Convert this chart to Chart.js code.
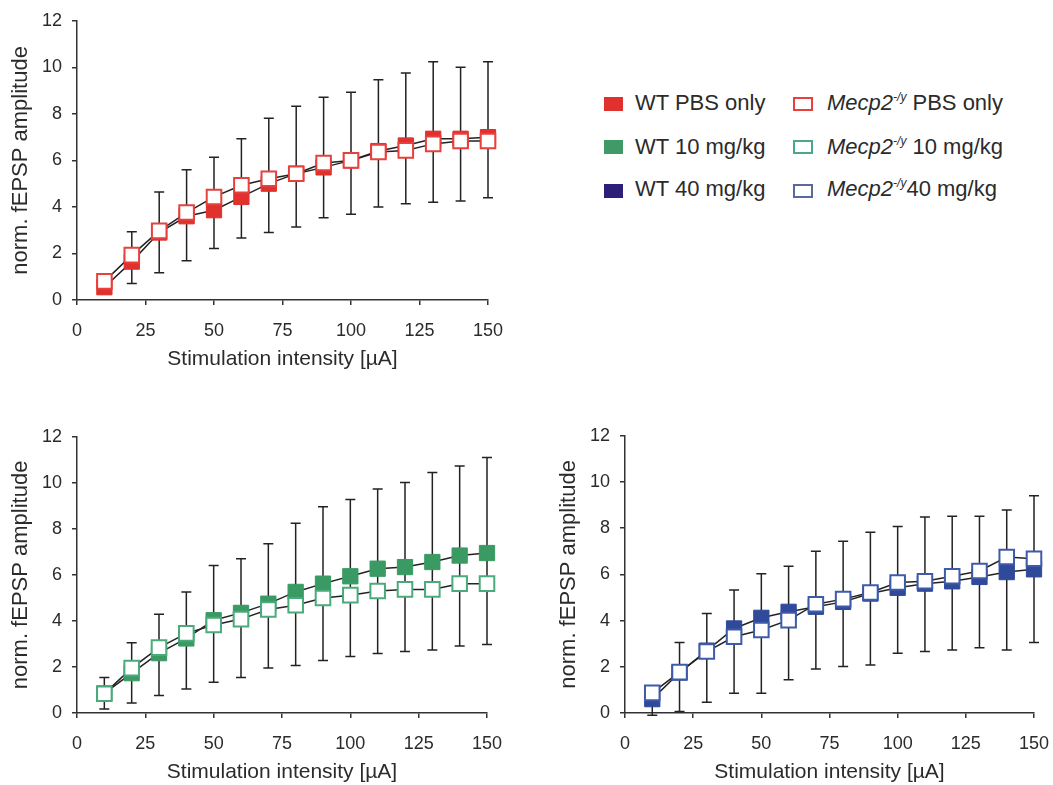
<!DOCTYPE html>
<html>
<head>
<meta charset="utf-8">
<script src="https://cdn.jsdelivr.net/npm/chart.js@4.4.1/dist/chart.umd.min.js"></script>
<style>
  body { margin: 0; width: 1053px; height: 785px; position: relative; overflow: hidden; background: #fff;
         font-family: 'Liberation Sans', Arial, sans-serif; color: #2b2b2b; }
  .panel { position: absolute; }
  .sw { position: absolute; width: 19px; height: 14px; box-sizing: border-box; }
  .open { background: #fff; border: 2px solid; width: 20px; }
  .lbl { position: absolute; font-size: 22px; line-height: 26px; height: 26px; white-space: nowrap; }
  .lbl i sup { font-size: 12px; vertical-align: 9px; line-height: 0; }
</style>
</head>
<body>

<div class="panel" style="left:0;top:0;"><canvas id="pbsChart" width="520" height="380"></canvas></div>
<div class="panel" style="left:0;top:416px;"><canvas id="dose10Chart" width="520" height="377"></canvas></div>
<div class="panel" style="left:548px;top:415px;"><canvas id="dose40Chart" width="520" height="378"></canvas></div>

<!-- легенда -->
<div class="sw" style="left:604px;top:97px;background:#e0312f;"></div>
<div class="lbl" style="left:635px;top:90px;">WT PBS only</div>
<div class="sw" style="left:604px;top:140px;background:#3f9a68;"></div>
<div class="lbl" style="left:635px;top:134px;">WT 10 mg/kg</div>
<div class="sw" style="left:604px;top:184px;background:#2b1f78;"></div>
<div class="lbl" style="left:635px;top:176px;">WT 40 mg/kg</div>

<div class="sw open" style="left:793px;top:97px;border-color:#e8403c;"></div>
<div class="lbl" style="left:827px;top:90px;"><i>Mecp2<sup>-/y</sup></i> PBS only</div>
<div class="sw open" style="left:793px;top:140px;border-color:#4aa88a;"></div>
<div class="lbl" style="left:827px;top:134px;"><i>Mecp2<sup>-/y</sup></i> 10 mg/kg</div>
<div class="sw open" style="left:793px;top:184px;border-color:#5a68a0;"></div>
<div class="lbl" style="left:827px;top:176px;"><i>Mecp2<sup>-/y</sup></i>40 mg/kg</div>

<script>
// Интенсивность стимуляции, мкА
const intensities = [10, 20, 30, 40, 50, 60, 70, 80, 90, 100, 110, 120, 130, 140, 150];

// PBS
const wtPbs   = [0.55, 1.65, 2.9, 3.6, 3.86, 4.43, 5.0, 5.43, 5.7, 6.0, 6.4, 6.64, 6.93, 6.93, 7.0];
const mecpPbs = [0.8, 1.93, 2.97, 3.76, 4.43, 4.93, 5.21, 5.43, 5.89, 6.0, 6.36, 6.43, 6.71, 6.83, 6.83];
const pbsErrHigh = [1.0, 2.93, 4.64, 5.6, 6.14, 6.93, 7.81, 8.33, 8.71, 8.93, 9.47, 9.76, 10.24, 10.0, 10.24];
const pbsErrLow  = [0.3, 0.71, 1.17, 1.69, 2.21, 2.66, 2.9, 3.14, 3.54, 3.69, 4.0, 4.14, 4.2, 4.26, 4.39];

// 10 mg/kg
const wt10   = [0.85, 1.73, 2.6, 3.24, 4.03, 4.35, 4.75, 5.26, 5.62, 5.94, 6.27, 6.34, 6.56, 6.84, 6.95];
const mecp10 = [0.84, 1.95, 2.84, 3.46, 3.82, 4.08, 4.5, 4.68, 5.0, 5.12, 5.3, 5.37, 5.37, 5.62, 5.62];
const err10High = [1.54, 3.05, 4.29, 5.26, 6.41, 6.7, 7.35, 8.24, 8.96, 9.28, 9.73, 10.01, 10.45, 10.73, 11.1];
const err10Low  = [0.17, 0.43, 0.76, 1.04, 1.34, 1.54, 1.95, 2.06, 2.28, 2.45, 2.59, 2.67, 2.74, 2.91, 2.98];

// 40 mg/kg
const wt40   = [0.6, 1.75, 2.7, 3.66, 4.12, 4.38, 4.6, 4.81, 5.17, 5.42, 5.6, 5.7, 5.89, 6.1, 6.22];
const mecp40 = [0.87, 1.77, 2.66, 3.3, 3.59, 4.02, 4.71, 4.93, 5.22, 5.65, 5.7, 5.92, 6.15, 6.75, 6.68];
const err40High = [1.0, 3.05, 4.31, 5.32, 6.03, 6.35, 7.0, 7.44, 7.83, 8.07, 8.48, 8.52, 8.52, 8.79, 9.41];
const err40Low  = [-0.1, 0.07, 0.46, 0.86, 0.86, 1.44, 1.9, 2.01, 2.08, 2.59, 2.66, 2.73, 2.83, 2.73, 3.05];

// Оси
const xMin = 0, xMax = 150, xStep = 25;
const yMin = 0, yMax = 12, yStep = 2;

const ink = '#2b2b2b';
const fontFamily = "'Liberation Sans', Arial, sans-serif";

// Планки погрешностей рисуем под маркерами
const errorBarPlugin = {
    id: 'errorBars',
    beforeDatasetsDraw(chart, args, opts) {
        const { ctx, scales: { x, y } } = chart;
        ctx.save();
        ctx.strokeStyle = '#222';
        ctx.lineWidth = 1.5;
        opts.high.forEach((hi, i) => {
            const px = x.getPixelForValue(intensities[i]);
            const top = y.getPixelForValue(hi);
            const bot = y.getPixelForValue(opts.low[i]);
            ctx.beginPath();
            ctx.moveTo(px, top); ctx.lineTo(px, bot);
            ctx.moveTo(px - 5, top); ctx.lineTo(px + 5, top);
            ctx.moveTo(px - 5, bot); ctx.lineTo(px + 5, bot);
            ctx.stroke();
        });
        ctx.restore();
    }
};

function toPoints(values) {
    return values.map((v, i) => ({ x: intensities[i], y: v }));
}

function makeChart(id, filled, open, fillColor, openColor, errLow, errHigh, padRight) {
    new Chart(document.getElementById(id).getContext('2d'), {
        type: 'line',
        data: {
            datasets: [{
                data: toPoints(open),
                borderColor: '#222',
                borderWidth: 1.5,
                pointStyle: 'rect',
                pointRadius: 10.3,
                pointBorderWidth: 2,
                pointBackgroundColor: '#fff',
                pointBorderColor: openColor,
                clip: false,
                order: 0
            }, {
                data: toPoints(filled),
                borderColor: '#222',
                borderWidth: 1.5,
                pointStyle: 'rect',
                pointRadius: 10.8,
                pointBorderWidth: 1,
                pointBackgroundColor: fillColor,
                pointBorderColor: fillColor,
                clip: false,
                order: 1
            }]
        },
        options: {
            responsive: false,
            animation: false,
            events: [],
            layout: { padding: { top: 20, right: padRight, left: 0, bottom: 0 } },
            plugins: {
                legend: { display: false },
                tooltip: { enabled: false },
                errorBars: { low: errLow, high: errHigh }
            },
            scales: {
                x: {
                    type: 'linear',
                    min: xMin, max: xMax,
                    ticks: { stepSize: xStep, color: ink, padding: 15, font: { family: fontFamily, size: 18 } },
                    grid: { drawOnChartArea: false, drawTicks: true, tickLength: 5, color: '#333', lineWidth: 1.5 },
                    border: { color: '#333', width: 1.5 },
                    title: { display: true, text: 'Stimulation intensity [µA]', color: ink,
                             font: { family: fontFamily, size: 21 }, padding: { top: 0, bottom: 8 } },
                    afterFit: s => { s.height = 80; }
                },
                y: {
                    min: yMin, max: yMax,
                    ticks: { stepSize: yStep, color: ink, padding: 10, font: { family: fontFamily, size: 18 } },
                    grid: { drawOnChartArea: false, drawTicks: true, tickLength: 5, color: '#333', lineWidth: 1.5 },
                    border: { color: '#333', width: 1.5 },
                    title: { display: true, text: 'norm. fEPSP amplitude', color: ink,
                             font: { family: fontFamily, size: 22 }, padding: { top: 8, bottom: 0 } },
                    afterFit: s => { s.width = 77; }
                }
            }
        },
        plugins: [errorBarPlugin]
    });
}

makeChart('pbsChart', wtPbs, mecpPbs, '#e0312f', '#e8403c', pbsErrLow, pbsErrHigh, 32);
makeChart('dose10Chart', wt10, mecp10, '#3a9a63', '#4aaa7c', err10Low, err10High, 33);
makeChart('dose40Chart', wt40, mecp40, '#2f4a9a', '#3e5baa', err40Low, err40High, 34);
</script>
</body>
</html>
